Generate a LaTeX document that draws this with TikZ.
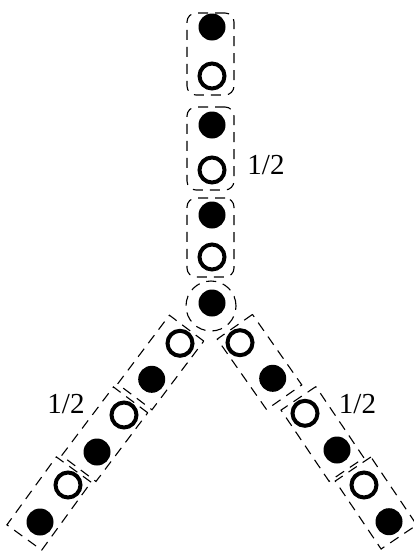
\documentclass[tikz,border=0pt]{standalone}
\usepackage{fontspec}
\setmainfont{Liberation Serif}
\begin{document}
\begin{tikzpicture}[x=1pt,y=-1pt,
  dotf/.style={circle,fill=black,inner sep=0pt,minimum size=27pt},
  doto/.style={circle,draw=black,fill=white,line width=4pt,inner sep=0pt,minimum size=25pt},
  dbox/.style={draw=black,line width=1.1pt,dash pattern=on 10pt off 7pt,inner sep=0pt},
  vbox/.style={dbox,rectangle,rounded corners=9pt,minimum width=47pt},
  bbox/.style={dbox,rectangle,minimum width=43pt,minimum height=86pt},
  cbox/.style={dbox,circle,minimum size=50pt},
  lbl/.style={inner sep=0pt,font=\fontsize{29}{29}\selectfont}]
\useasboundingbox (0,0) rectangle (414,554);
% vertical boxes
\node[vbox,minimum height=82pt] (b1) at (210.5,54) {};
\node[vbox,minimum height=83pt] (b2) at (210.5,148.5) {};
\node[vbox,minimum height=79pt] (b3) at (210.5,237.5) {};
\node[cbox] (bc) at (211,306) {};
% right branch boxes
\node[bbox,rotate=35] (r1) at (259.5,362) {};
\node[bbox,rotate=34,minimum width=42pt] (r2) at (322.5,434) {};
\node[bbox,rotate=34,minimum height=82pt] (r3) at (376,503) {};
% left branch boxes
\node[bbox,rotate=-37] (l1) at (160.7,362.5) {};
\node[bbox,rotate=-37] (l2) at (104.7,434.2) {};
\node[bbox,rotate=-36,minimum height=84pt] (l3) at (49,503.5) {};
% vertical dots
\node[dotf] (v1) at (212,27) {};
\node[doto] (v2) at (212,76) {};
\node[dotf] (v3) at (212,125) {};
\node[doto] (v4) at (212,170) {};
\node[dotf] (v5) at (212,215) {};
\node[doto] (v6) at (212,257) {};
\node[dotf] (c) at (212,303) {};
% right dots
\node[doto] (ra) at (240,342.7) {};
\node[dotf] (rb) at (272.7,378.3) {};
\node[doto] (rc) at (305,413.3) {};
\node[dotf] (rd) at (337,450) {};
\node[doto] (re) at (364,485) {};
\node[dotf] (rf) at (389,521.7) {};
% left dots
\node[doto] (la) at (180,343.3) {};
\node[dotf] (lb) at (151.7,379.3) {};
\node[doto] (lc) at (124,415) {};
\node[dotf] (ld) at (97,452) {};
\node[doto] (le) at (68,485) {};
\node[dotf] (lf) at (40,522) {};
% labels
\node[lbl] (t1) at (266,165) {1/2};
\node[lbl] (t2) at (66,404) {1/2};
\node[lbl] (t3) at (357.5,404.5) {1/2};
\end{tikzpicture}
\end{document}
